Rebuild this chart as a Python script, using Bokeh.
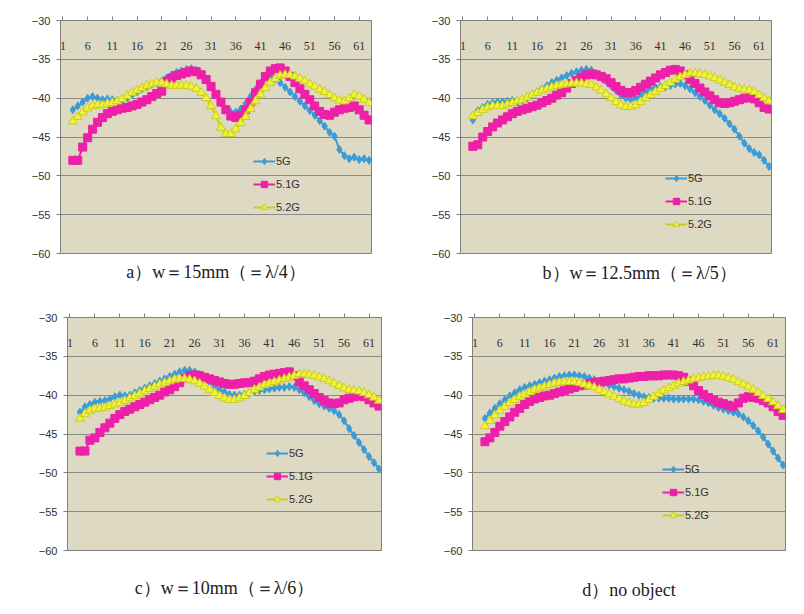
from bokeh.plotting import figure
from bokeh.models import FixedTicker, Legend, LegendItem, Title, LinearAxis
from bokeh.layouts import column, row
from bokeh.embed import file_html
from bokeh.resources import INLINE

x_cat = list(range(3, 64))
x_ticks = [1, 6, 11, 16, 21, 26, 31, 36, 41, 46, 51, 56, 61]
y_ticks = [-60, -55, -50, -45, -40, -35, -30]
series_names = ["5G", "5.1G", "5.2G"]

a_5g = [-41.5, -41.0, -40.5, -40.0, -39.8, -40.0, -40.2, -40.1, -40.2, -40.3,
        -40.3, -40.0, -39.6, -39.2, -38.8, -38.5, -38.2, -38.0, -37.8, -37.4,
        -37.0, -36.7, -36.5, -36.3, -36.2, -36.4, -36.9, -37.6, -38.6, -39.6,
        -40.6, -41.4, -41.8, -41.8, -41.4, -40.7, -39.8, -38.9, -38.1, -37.4,
        -37.2, -37.5, -38.0, -38.6, -39.2, -39.8, -40.4, -41.0, -41.6, -42.2,
        -42.9, -43.6, -44.4, -44.9, -46.6, -47.4, -47.8, -47.6, -47.9, -47.8, -48.0]
a_51g = [-48.0, -48.0, -46.3, -45.1, -44.0, -43.1, -42.5, -42.0, -41.7, -41.5,
         -41.3, -41.2, -41.0, -40.8, -40.5, -40.2, -39.8, -39.4, -39.1, -37.8,
         -37.4, -37.1, -36.9, -36.7, -36.5, -36.6, -37.0, -37.6, -38.5, -39.5,
         -40.5, -41.5, -42.3, -42.5, -42.2, -41.5, -40.5, -39.3, -38.2, -37.2,
         -36.5, -36.2, -36.1, -36.5, -37.2, -38.0, -38.8, -39.5, -40.2, -41.0,
         -41.7, -42.1, -42.2, -41.8, -41.5, -41.3, -41.2, -41.0, -41.5, -42.2, -42.8]
a_52g = [-43.0, -42.4, -41.8, -41.3, -41.0, -40.9, -40.9, -40.7, -40.6, -40.4,
         -40.1, -39.7, -39.3, -39.0, -38.7, -38.4, -38.2, -38.0, -38.0, -38.2,
         -38.4, -38.4, -38.4, -38.4, -38.5, -38.8, -39.3, -40.0, -41.0, -42.3,
         -43.8, -44.6, -44.6, -44.0, -43.2, -42.4, -41.4, -40.4, -39.5, -38.7,
         -38.0, -37.5, -37.1, -37.0, -37.0, -37.2, -37.5, -37.8, -38.2, -38.5,
         -38.9, -39.2, -39.6, -40.0, -40.3, -40.4, -40.0, -39.6, -39.8, -40.2, -40.6]

b_5g = [-42.8, -41.6, -41.2, -40.8, -40.6, -40.5, -40.5, -40.4, -40.3, -40.5,
        -40.3, -40.0, -39.6, -39.2, -38.8, -38.4, -38.0, -37.7, -37.4, -37.1,
        -36.8, -36.6, -36.4, -36.3, -36.4, -36.8, -37.3, -37.8, -38.4, -39.0,
        -39.6, -40.0, -40.2, -40.0, -39.6, -39.2, -38.8, -38.6, -38.5, -38.5,
        -38.4, -38.2, -38.1, -38.4, -38.8, -39.3, -39.8, -40.3, -40.9, -41.5,
        -42.0, -42.6, -43.3, -44.0, -44.9, -45.8, -46.5, -47.0, -47.3, -48.0, -48.8]
b_51g = [-46.2, -46.0, -45.0, -44.3, -43.7, -43.2, -42.8, -42.4, -42.0, -41.7,
         -41.5, -41.3, -41.1, -40.9, -40.6, -40.3, -40.0, -39.6, -39.3, -38.7,
         -38.1, -37.7, -37.3, -37.0, -36.9, -37.0, -37.2, -37.5, -38.0, -38.5,
         -39.0, -39.3, -39.3, -39.0, -38.6, -38.2, -37.8, -37.4, -37.0, -36.7,
         -36.4, -36.3, -36.5, -37.0, -37.6, -38.1, -38.7, -39.2, -39.7, -40.2,
         -40.6, -40.7, -40.6, -40.4, -40.2, -40.0, -39.9, -40.1, -40.6, -41.2, -41.4]
b_52g = [-42.3, -41.9, -41.5, -41.2, -41.0, -41.0, -41.0, -40.8, -40.6, -40.4,
         -40.2, -39.9, -39.6, -39.3, -39.0, -38.8, -38.6, -38.4, -38.3, -38.2,
         -38.1, -38.1, -38.1, -38.2, -38.3, -38.6, -39.0, -39.5, -40.0, -40.5,
         -40.9, -41.1, -41.1, -40.9, -40.5, -40.0, -39.6, -39.2, -38.8, -38.4,
         -38.0, -37.6, -37.3, -37.0, -36.8, -36.8, -36.9, -37.0, -37.2, -37.4,
         -37.7, -38.0, -38.3, -38.6, -38.8, -38.9, -39.0, -39.2, -39.6, -40.0, -40.4]

c_5g = [-42.2, -41.5, -41.2, -40.9, -40.8, -40.7, -40.5, -40.2, -40.0, -40.1,
        -40.0, -39.7, -39.4, -39.1, -38.8, -38.5, -38.2, -37.9, -37.6, -37.3,
        -37.0, -36.8, -36.8, -37.0, -37.3, -37.8, -38.3, -38.8, -39.3, -39.6,
        -39.9, -40.0, -40.0, -39.9, -39.7, -39.5, -39.4, -39.3, -39.2, -39.1,
        -39.0, -39.0, -38.9, -39.0, -39.3, -39.7, -40.2, -40.7, -41.1, -41.4,
        -41.7, -42.0, -42.5, -43.3, -44.3, -45.2, -46.1, -47.0, -47.9, -48.7, -49.5]
c_51g = [-47.2, -47.2, -45.8, -45.5, -44.8, -44.2, -43.6, -43.0, -42.5, -42.1,
         -41.8, -41.5, -41.2, -40.9, -40.6, -40.3, -40.0, -39.6, -39.3, -38.9,
         -38.4, -37.8, -37.5, -37.4, -37.5, -37.7, -37.9, -38.1, -38.3, -38.5,
         -38.6, -38.6, -38.5, -38.4, -38.4, -38.2, -37.9, -37.6, -37.4, -37.3,
         -37.2, -37.1, -37.0, -37.5, -38.3, -38.8, -39.3, -39.8, -40.3, -40.7,
         -41.0, -41.1, -41.0, -40.6, -40.4, -40.2, -40.1, -40.2, -40.6, -41.0, -41.4]
c_52g = [-43.0, -42.4, -42.0, -41.8, -41.7, -41.6, -41.4, -41.2, -41.0, -40.7,
         -40.4, -40.1, -39.8, -39.5, -39.2, -38.9, -38.6, -38.4, -38.2, -38.0,
         -37.9, -37.9, -38.0, -38.2, -38.5, -38.9, -39.3, -39.7, -40.1, -40.4,
         -40.6, -40.6, -40.4, -40.1, -39.7, -39.3, -39.0, -38.7, -38.5, -38.3,
         -38.1, -37.9, -37.7, -37.5, -37.3, -37.3, -37.4, -37.5, -37.7, -37.9,
         -38.2, -38.5, -38.8, -39.1, -39.3, -39.4, -39.5, -39.7, -40.0, -40.3, -40.7]

d_5g = [-43.0, -42.3, -41.7, -41.1, -40.6, -40.1, -39.7, -39.3, -39.0, -38.8,
        -38.6, -38.4, -38.2, -38.0, -37.8, -37.6, -37.5, -37.4, -37.4, -37.5,
        -37.6, -37.8, -38.0, -38.2, -38.5, -38.7, -38.9, -39.1, -39.3, -39.5,
        -39.8, -40.0, -40.2, -40.3, -40.4, -40.4, -40.4, -40.4, -40.5, -40.5,
        -40.5, -40.5, -40.5, -40.6, -40.8, -41.0, -41.3, -41.6, -41.8, -42.0,
        -42.2, -42.4, -42.8, -43.3, -43.9, -44.6, -45.4, -46.3, -47.2, -48.1, -49.0]
d_51g = [-46.0, -45.5, -44.8, -44.0, -43.4, -42.8, -42.2, -41.7, -41.2, -40.8,
         -40.5, -40.3, -40.1, -40.0, -39.8, -39.6, -39.4, -39.2, -39.0, -38.8,
         -38.7, -38.5, -38.4, -38.3, -38.2, -38.1, -38.0, -37.9, -37.9, -37.8,
         -37.7, -37.6, -37.6, -37.5, -37.5, -37.5, -37.4, -37.4, -37.4, -37.5,
         -37.7, -38.2, -38.8, -39.4, -39.9, -40.3, -40.6, -40.9, -41.1, -41.3,
         -41.5, -41.0, -40.4, -40.2, -40.3, -40.4, -40.7, -41.0, -41.5, -42.1, -42.6]
d_52g = [-44.0, -43.3, -42.6, -42.0, -41.5, -41.0, -40.6, -40.2, -39.9, -39.6,
         -39.3, -39.1, -38.9, -38.7, -38.5, -38.4, -38.3, -38.3, -38.3, -38.4,
         -38.6, -38.8, -39.0, -39.3, -39.6, -39.9, -40.2, -40.5, -40.8, -41.0,
         -41.2, -41.2, -41.0, -40.6, -40.2, -39.8, -39.4, -39.1, -38.8, -38.5,
         -38.3, -38.1, -37.9, -37.8, -37.7, -37.6, -37.5, -37.5, -37.6, -37.8,
         -38.0, -38.3, -38.6, -38.9, -39.3, -39.7, -40.1, -40.5, -40.9, -41.4, -41.9]

captions = ["a）w＝15mm（＝λ/4）", "b）w＝12.5mm（＝λ/5）",
            "c）w＝10mm（＝λ/6）", "d）no object"]

BLUE = "#3C9BD6"
PINK = "#EE1FA8"
YEL_FILL = "#F2F23A"
YEL_LINE = "#C9CE1E"
CAP_FONT = "Liberation Serif"
CAP_SIZE = "18px"


def make_panel(w, h, bl, br, bt, bb, s5, s51, s52, caption, leg_loc, cap_mode, cap_standoff, cap_offset=0):
    p = figure(width=w, height=h, x_range=(0.5, 63.5), y_range=(-60, -30),
               output_backend="svg", toolbar_location=None,
               x_axis_location="above",
               min_border_left=bl, min_border_right=br,
               min_border_top=bt, min_border_bottom=bb)
    p.background_fill_color = "#DDD9C3"
    p.border_fill_color = "white"
    p.outline_line_color = "#7F7F7F"
    p.xgrid.visible = False
    p.ygrid.grid_line_color = "#8A8A8A"
    p.ygrid.grid_line_width = 1
    p.ygrid.ticker = FixedTicker(ticks=y_ticks)

    xa = p.xaxis[0]
    xa.ticker = FixedTicker(ticks=x_ticks)
    xa.axis_line_color = "#7F7F7F"
    xa.major_tick_line_color = "#7F7F7F"
    xa.major_tick_out = 4
    xa.major_tick_in = 0
    xa.minor_tick_line_color = None
    xa.major_label_standoff = -33
    xa.major_label_text_font = "Liberation Serif"
    xa.major_label_text_font_size = "12px"
    xa.major_label_text_color = "#303030"

    ya = p.yaxis[0]
    ya.ticker = FixedTicker(ticks=y_ticks)
    ya.axis_line_color = "#7F7F7F"
    ya.major_tick_line_color = "#7F7F7F"
    ya.major_tick_out = 4
    ya.major_tick_in = 0
    ya.minor_tick_line_color = None
    ya.major_label_standoff = 6
    ya.major_label_text_font = "Liberation Sans"
    ya.major_label_text_font_size = "11px"
    ya.major_label_text_color = "#303030"

    l1 = p.line(x_cat, s5, line_color=BLUE, line_width=2)
    m1 = p.scatter(x_cat, s5, marker="diamond", size=8, fill_color=BLUE, line_color=BLUE)
    l2 = p.line(x_cat, s51, line_color=PINK, line_width=2)
    m2 = p.scatter(x_cat, s51, marker="square", size=8, fill_color=PINK, line_color=PINK)
    l3 = p.line(x_cat, s52, line_color=YEL_LINE, line_width=2)
    m3 = p.scatter(x_cat, s52, marker="triangle", size=9, fill_color=YEL_FILL, line_color=YEL_LINE)

    legend = Legend(items=[LegendItem(label=series_names[0], renderers=[l1, m1]),
                           LegendItem(label=series_names[1], renderers=[l2, m2]),
                           LegendItem(label=series_names[2], renderers=[l3, m3])],
                    location=leg_loc, background_fill_alpha=0, border_line_alpha=0,
                    label_text_font="Liberation Sans", label_text_font_size="11px",
                    label_text_color="#303030",
                    glyph_width=22, glyph_height=16, label_height=16, spacing=7,
                    padding=0, margin=0, label_standoff=1)
    p.add_layout(legend)

    if cap_mode == "axis":
        cap_axis = LinearAxis(ticker=FixedTicker(ticks=[]), axis_label=caption,
                              axis_line_color=None, major_tick_line_color=None,
                              minor_tick_line_color=None, major_tick_out=0,
                              major_tick_in=0, major_label_standoff=0,
                              axis_label_standoff=cap_standoff,
                              axis_label_text_font=CAP_FONT,
                              axis_label_text_font_size=CAP_SIZE,
                              axis_label_text_font_style="normal",
                              axis_label_text_color="#202020")
        p.add_layout(cap_axis, "below")
    else:
        p.add_layout(Title(text=caption, align="left", offset=cap_offset,
                           standoff=cap_standoff, text_font=CAP_FONT,
                           text_font_size=CAP_SIZE, text_font_style="normal",
                           text_color="#202020"), "below")
    return p


pa = make_panel(400, 308, 60, 29, 20, 55, a_5g, a_51g, a_52g, captions[0], (193, 38), "axis", 8)
pb = make_panel(396, 308, 60, 25, 20, 55, b_5g, b_51g, b_52g, captions[1], (205, 21), "title", 14, 82)
pc = make_panel(400, 298, 67, 19, 9, 56, c_5g, c_51g, c_52g, captions[2], (199, 43), "axis", 27)
pd = make_panel(396, 298, 72, 11, 9, 56, d_5g, d_51g, d_52g, captions[3], (190, 27), "axis", 29)

layout = column(row(pa, pb), row(pc, pd))
open("out.html", "w").write(file_html(layout, INLINE))
